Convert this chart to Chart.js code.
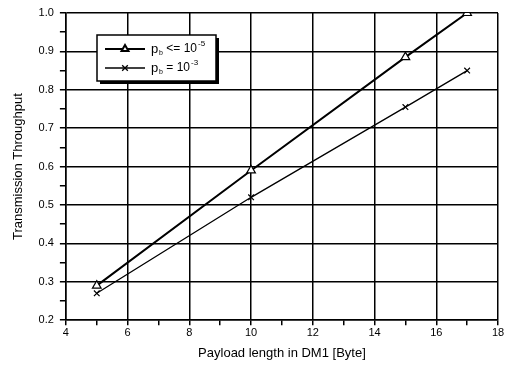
<!DOCTYPE html>
<html>
<head>
<meta charset="utf-8">
<script src="https://cdn.jsdelivr.net/npm/chart.js@4/dist/chart.umd.min.js"></script>
<style>
  html, body { margin: 0; padding: 0; background: #fff; }
  #wrap { width: 513px; height: 365px; }
</style>
</head>
<body>
<div id="wrap"><canvas id="chart"></canvas></div>
<script>
// datos
const payload = [5, 10, 15, 17];
const throughputLow = [0.29, 0.59, 0.885, 1.0];   // pb <= 10^-5
const throughputHigh = [0.27, 0.52, 0.755, 0.85]; // pb = 10^-3
const seriesNames = ['p_b <= 10^-5', 'p_b = 10^-3'];
const xTicks = [4, 6, 8, 10, 12, 14, 16, 18];
const yTicks = [0.2, 0.3, 0.4, 0.5, 0.6, 0.7, 0.8, 0.9, 1.0];

const FONT = 'Liberation Sans, Arial, sans-serif';

function toPoints(xs, ys) {
  return xs.map((x, i) => ({ x: x, y: ys[i] }));
}

// leyenda con caja y sombra
const legendBox = {
  id: 'legendBox',
  afterDraw(chart) {
    const c = chart.ctx;
    const x = 97, y = 35, w = 119, h = 46;
    c.save();
    c.fillStyle = '#000';
    c.fillRect(x + 3, y + 3, w, h);
    c.fillStyle = '#fff';
    c.fillRect(x, y, w, h);
    c.strokeStyle = '#000';
    c.lineWidth = 1.5;
    c.strokeRect(x, y, w, h);

    const rows = [
      { ds: chart.data.datasets[0], cy: y + 14, exp: '-5', op: '<=' },
      { ds: chart.data.datasets[1], cy: y + 33, exp: '-3', op: '=' }
    ];
    rows.forEach(r => {
      c.strokeStyle = '#000';
      c.lineWidth = r.ds.borderWidth;
      c.beginPath();
      c.moveTo(x + 8, r.cy);
      c.lineTo(x + 48, r.cy);
      c.stroke();
      Chart.helpers.drawPoint(c, {
        pointStyle: r.ds.pointStyle, radius: 4, borderWidth: 1.2,
        rotation: r.ds.pointRotation || 0
      }, x + 28, r.cy);
      c.fillStyle = '#000';
      c.textBaseline = 'middle';
      c.font = '13px ' + FONT;
      c.fillText('p', x + 54, r.cy);
      c.font = '7px ' + FONT;
      c.fillText('b', x + 62, r.cy + 4);
      c.font = '12px ' + FONT;
      const t = ' ' + r.op + ' 10';
      c.fillText(t, x + 66, r.cy);
      const tw = c.measureText(t).width;
      c.font = '8px ' + FONT;
      c.fillText(r.exp, x + 66 + tw + 1, r.cy - 5);
    });
    c.restore();
  }
};

const ctx = document.getElementById('chart');

new Chart(ctx, {
  type: 'scatter',
  data: {
    datasets: [{
      label: seriesNames[0],
      data: toPoints(payload, throughputLow),
      showLine: true,
      borderColor: '#000',
      backgroundColor: '#fff',
      borderWidth: 2,
      pointStyle: 'triangle',
      pointRadius: 5,
      pointBorderWidth: 1.2,
      pointBackgroundColor: '#fff',
      pointBorderColor: '#000'
    }, {
      label: seriesNames[1],
      data: toPoints(payload, throughputHigh),
      showLine: true,
      borderColor: '#000',
      backgroundColor: '#000',
      borderWidth: 1.3,
      pointStyle: 'cross',
      pointRotation: 45,
      pointRadius: 4,
      pointBorderWidth: 1.2,
      pointBorderColor: '#000'
    }]
  },
  options: {
    responsive: true,
    maintainAspectRatio: false,
    animation: false,
    layout: { padding: { top: 13, right: 15, left: 7, bottom: 0 } },
    plugins: {
      legend: { display: false },
      tooltip: { enabled: false }
    },
    scales: {
      x: {
        type: 'linear',
        min: 4, max: 18,
        afterBuildTicks: axis => {
          const t = [];
          for (let v = 4; v <= 18; v++) t.push({ value: v });
          axis.ticks = t;
        },
        ticks: {
          color: '#000',
          font: { family: FONT, size: 11 },
          maxRotation: 0,
          autoSkip: false,
          padding: 1,
          callback: v => xTicks.includes(v) ? String(v) : ''
        },
        grid: {
          color: c => xTicks.includes(c.tick.value) ? '#000' : 'rgba(0,0,0,0)',
          lineWidth: 1.5,
          tickColor: '#000',
          tickLength: 5
        },
        border: { color: '#000', width: 1.5 },
        title: {
          display: true,
          text: 'Payload length in DM1 [Byte]',
          color: '#000',
          font: { family: FONT, size: 13 },
          padding: { top: 5 }
        }
      },
      y: {
        min: 0.2, max: 1.0,
        afterBuildTicks: axis => {
          const t = [];
          for (let k = 20; k <= 100; k += 5) t.push({ value: k / 100 });
          axis.ticks = t;
        },
        ticks: {
          color: '#000',
          font: { family: FONT, size: 11 },
          autoSkip: false,
          padding: 6,
          callback: v => {
            const k = Math.round(v * 100);
            return k % 10 === 0 ? (k / 100).toFixed(1) : '';
          }
        },
        grid: {
          color: c => Math.round(c.tick.value * 100) % 10 === 0 ? '#000' : 'rgba(0,0,0,0)',
          lineWidth: 1.5,
          tickColor: '#000',
          tickLength: 6
        },
        border: { color: '#000', width: 1.5 },
        title: {
          display: true,
          text: 'Transmission Throughput',
          color: '#000',
          font: { family: FONT, size: 13 },
          padding: { bottom: 6 }
        }
      }
    }
  },
  plugins: [legendBox]
});
</script>
</body>
</html>
